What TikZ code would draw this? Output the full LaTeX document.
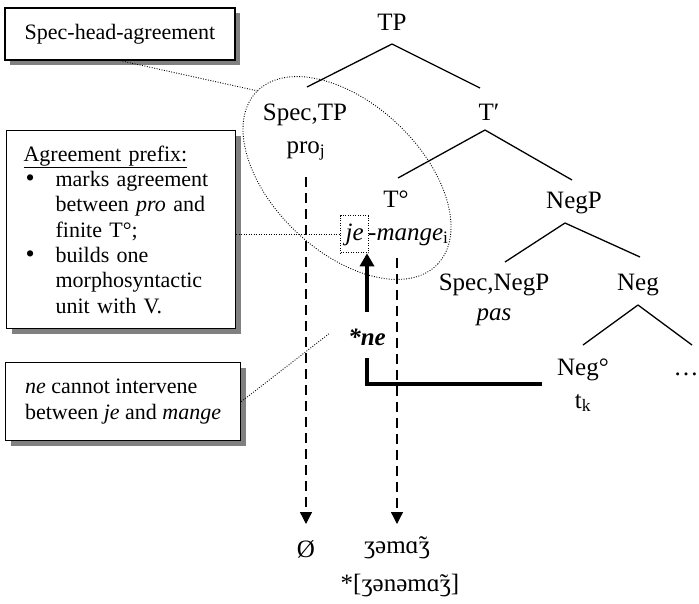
\documentclass[tikz,border=0pt]{standalone}
\usepackage{fontspec}
\setmainfont{Liberation Serif}
\usetikzlibrary{arrows.meta,calc,shadows,shapes.geometric}
\newcommand{\bigbul}{\makebox[32pt][l]{\hspace{2pt}{\fontsize{26}{25}\selectfont •}}}
\begin{document}
\begin{tikzpicture}[x=1pt,y=-1pt,
  lbl/.style={anchor=base,inner sep=0pt,font=\fontsize{25}{30}\selectfont},
  branch/.style={line width=1.3pt},
  infobox/.style={draw,line width=1.2pt,fill=white,align=left,
    font=\fontsize{22}{25.3}\selectfont,
    drop shadow={shadow xshift=5pt,shadow yshift=-5pt,fill=black!50,opacity=1}},
  dotline/.style={line width=0.9pt,dash pattern=on 0.9pt off 1.6pt},
  jebox/.style={draw,line width=0.8pt,dash pattern=on 0.9pt off 1.6pt,
    inner xsep=5pt,inner ysep=0pt,minimum height=37pt,
    font=\fontsize{25}{30}\selectfont\itshape},
  dasharrow/.style={line width=1.3pt,dash pattern=on 10pt off 6pt,
    -{Triangle[length=12pt,width=12pt]}},
  headmove/.style={line width=4pt,-{Triangle[length=13pt,width=14pt]}},
  thickline/.style={line width=4pt}
]
\useasboundingbox (0,0) rectangle (699,603);

% info boxes
\node[infobox,minimum width=230pt,minimum height=52pt] (b1) at (120,34) {Spec-head-agreement};
\node[infobox,anchor=north west,text width=195pt,inner xsep=17pt,inner ysep=0pt,
      minimum height=198pt] (b2) at (6,130)
  {\underline{Agreement prefix:}\\
   \bigbul marks agreement\\
   \hspace*{32pt}between \textit{pro} and\\
   \hspace*{32pt}finite T°;\\
   \bigbul builds one\\
   \hspace*{32pt}morphosyntactic\\
   \hspace*{32pt}unit with V.};
\node[infobox,anchor=north west,inner xsep=0pt,inner ysep=0pt,
      minimum width=235pt,minimum height=78pt] (b3) at (5,362)
  {\textit{ne} cannot intervene\\between \textit{je} and \textit{mange}};

% tree labels
\node[lbl] (TP) at (392,30) {TP};
\node[lbl] (SpecTP) at (305,120) {Spec,TP};
\node[lbl] (pro) at (306,153) {pro\textsubscript{j}};
\node[lbl] (Tbar) at (489,120) {T′};
\node[lbl] (Thead) at (396,207) {T°};
\node[jebox,anchor=base east] (je) at (369,240) {je};
\node[lbl,anchor=base west] (mange) at (368,240) {\itshape -mange\textsubscript{\upshape i}};
\node[lbl] (NegP) at (574,208) {NegP};
\node[lbl] (SpecNegP) at (494,290) {Spec,NegP};
\node[lbl] (pas) at (494,320) {\itshape pas};
\node[lbl] (Neg) at (638,290) {Neg};
\node[lbl] (Neghead) at (583,375) {Neg°};
\node[lbl] (tk) at (583,408) {t\textsubscript{k}};
\node[lbl] (dots) at (686,375) {…};
\node[lbl] (ne) at (367,345) {\bfseries\itshape *ne};
\node[lbl] (null) at (306,557) {Ø};
\node[lbl] (zh) at (397,553) {ʒəmɑ̃ʒ};
\node[lbl] (zhstar) at (400,591) {*[ʒənəmɑ̃ʒ]};

% tree branches
\draw[branch] ($(TP.base)+(0,14)$) -- ($(SpecTP.base)+(2,-33)$);
\draw[branch] ($(TP.base)+(0,14)$) -- ($(Tbar.base)+(-9,-32)$);
\draw[branch] ($(Tbar.base)+(-4,10)$) -- ($(Thead.base)+(2,-29)$);
\draw[branch] ($(Tbar.base)+(-4,10)$) -- ($(NegP.base)+(-2,-28)$);
\draw[branch] ($(NegP.base)+(-9,15)$) -- ($(SpecNegP.base)+(11,-28)$);
\draw[branch] ($(NegP.base)+(-9,15)$) -- ($(Neg.base)+(2,-33)$);
\draw[branch] ($(Neg.base)+(0,15)$) -- ($(Neghead.base)+(0,-30)$);
\draw[branch] ($(Neg.base)+(0,15)$) -- ($(dots.base)+(6,-30)$);

% agreement ellipse
\node[draw,dotline,ellipse,minimum width=250pt,minimum height=148pt,inner sep=0pt,
      rotate=-43.5] (agr) at (347,178) {};

% dotted pointers
\coordinate (e1) at (258,91);
\draw[dotline] (b1.south) -- (e1);
\draw[dotline] (b2.east |- je.west) -- (je.west);
\coordinate (n1) at (330,333);
\draw[dotline] (b3.east) -- (n1);

% dashed arrows to phonology
\draw[dasharrow] ($(pro.base -| null.base)+(0,24)$) -- ($(null.base)+(0,-33)$);
\draw[dasharrow] ($(mange.base -| zh.base)+(0,18)$) -- ($(zh.base)+(0,-29)$);

% head movement
\draw[headmove] ($(ne.base)+(0,-33)$) -- (ne.base |- je.south);
\draw[thickline] ($(ne.base)+(0,13)$) |- ($(Neghead.base west)+(-15,9)$);
\end{tikzpicture}
\end{document}
